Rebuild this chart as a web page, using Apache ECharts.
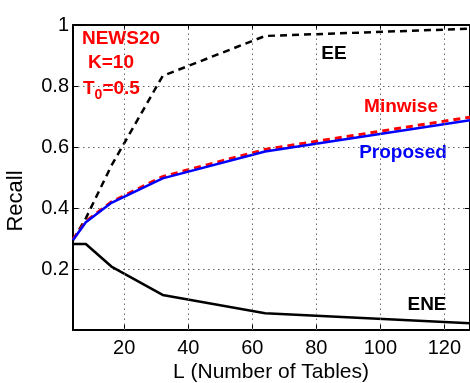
<!DOCTYPE html>
<html>
<head>
<meta charset="utf-8">
<script src="https://cdn.jsdelivr.net/npm/echarts@6/dist/echarts.min.js"></script>
<style>
  html, body { margin: 0; padding: 0; background: #fff; }
  #chart { width: 470px; height: 383px; }
</style>
</head>
<body>
<div id="chart"></div>
<script>
// Number of hash tables L
const tables = [4, 8, 16, 32, 64, 128];
// Recall of each method at K=10, T0=0.5 on NEWS20
const recallEE = [0.295, 0.366, 0.539, 0.833, 0.964, 0.988];
const recallMinwise = [0.297, 0.356, 0.420, 0.503, 0.592, 0.698];
const recallProposed = [0.295, 0.353, 0.417, 0.497, 0.585, 0.688];
const recallENE = [0.282, 0.282, 0.208, 0.115, 0.055, 0.022];
const xTicks = [20, 40, 60, 80, 100, 120];

const FONT = 'Liberation Sans, Arial, Helvetica, sans-serif';

function pairs(xs, ys) {
  return xs.map((x, i) => [x, ys[i]]);
}

const dottedGrid = { show: true, lineStyle: { color: '#666', width: 1, type: [1.5, 3.5] } };
const boxLine = { show: true, onZero: false, lineStyle: { color: '#000', width: 2 } };

const chart = echarts.init(document.getElementById('chart'), null, { renderer: 'canvas' });

chart.setOption({
  animation: false,
  backgroundColor: '#fff',
  grid: { left: 73, top: 25, right: 0, bottom: 53, containLabel: false },
  xAxis: [
    {
      type: 'value', min: 4, max: 128, position: 'bottom',
      axisLine: boxLine,
      axisTick: { show: true, inside: true, length: 5, customValues: xTicks, lineStyle: { color: '#000', width: 1 } },
      axisLabel: { customValues: xTicks, color: '#000', fontFamily: FONT, fontSize: 20, margin: 8 },
      splitLine: { show: false }
    },
    {
      type: 'value', min: 4, max: 128, position: 'top',
      axisLine: boxLine,
      axisTick: { show: true, inside: true, length: 5, customValues: xTicks, lineStyle: { color: '#000', width: 1 } },
      axisLabel: { show: false },
      splitLine: { show: false }
    }
  ],
  yAxis: [
    {
      type: 'value', min: 0, max: 1, interval: 0.2, position: 'left',
      axisLine: boxLine,
      axisTick: { show: true, inside: true, length: 5, lineStyle: { color: '#000', width: 1 } },
      axisLabel: {
        color: '#000', fontFamily: FONT, fontSize: 20, margin: 4,
        formatter: v => (v === 0 ? '' : String(+v.toFixed(1)))
      },
      splitLine: dottedGrid
    },
    {
      type: 'value', min: 0, max: 1, interval: 0.2, position: 'right',
      axisLine: boxLine,
      axisTick: { show: true, inside: true, length: 5, lineStyle: { color: '#000', width: 1 } },
      axisLabel: { show: false },
      splitLine: { show: false }
    }
  ],
  series: [
    {
      // vertical grid lines at the x tick values
      name: 'grid', type: 'line', data: [], silent: true,
      markLine: {
        silent: true, symbol: 'none', label: { show: false },
        lineStyle: { color: '#666', width: 1, type: [1.5, 3.5] },
        data: xTicks.map(v => ({ xAxis: v }))
      }
    },
    {
      name: 'EE', type: 'line', data: pairs(tables, recallEE),
      showSymbol: false, symbol: 'none',
      lineStyle: { color: '#000', width: 2.5, type: [7, 5] }
    },
    {
      name: 'ENE', type: 'line', data: pairs(tables, recallENE),
      showSymbol: false, symbol: 'none',
      lineStyle: { color: '#000', width: 2.5 }
    },
    {
      name: 'Minwise', type: 'line', data: pairs(tables, recallMinwise),
      showSymbol: false, symbol: 'none',
      lineStyle: { color: '#ff0000', width: 3, type: [7, 5] }
    },
    {
      name: 'Proposed', type: 'line', data: pairs(tables, recallProposed),
      showSymbol: false, symbol: 'none',
      lineStyle: { color: '#0000ff', width: 2.5 }
    }
  ],
  graphic: [
    {
      type: 'text', x: 16, y: 201, rotation: Math.PI / 2,
      style: { text: 'Recall', font: '22px ' + FONT, fill: '#000', align: 'center', verticalAlign: 'middle' }
    },
    {
      type: 'text', x: 271, y: 372,
      style: { text: 'L (Number of Tables)', font: '21px ' + FONT, fill: '#000', align: 'center', verticalAlign: 'middle' }
    },
    {
      type: 'text', x: 121, y: 39,
      style: { text: 'NEWS20', font: 'bold 19px ' + FONT, fill: '#ff0000', align: 'center', verticalAlign: 'middle' }
    },
    {
      type: 'text', x: 111, y: 63,
      style: { text: 'K=10', font: 'bold 19px ' + FONT, fill: '#ff0000', align: 'center', verticalAlign: 'middle' }
    },
    {
      type: 'text', x: 83, y: 89,
      style: {
        text: '{a|T}{s|0}{a|=0.5}', align: 'left', verticalAlign: 'middle',
        rich: {
          a: { font: 'bold 19px ' + FONT, fill: '#ff0000', verticalAlign: 'middle' },
          s: { font: 'bold 14px ' + FONT, fill: '#ff0000', padding: [12, 0, 0, 0], verticalAlign: 'middle' }
        }
      }
    },
    {
      type: 'text', x: 334, y: 54,
      style: { text: 'EE', font: 'bold 19px ' + FONT, fill: '#000', align: 'center', verticalAlign: 'middle' }
    },
    {
      type: 'text', x: 401, y: 107,
      style: { text: 'Minwise', font: 'bold 19px ' + FONT, fill: '#ff0000', align: 'center', verticalAlign: 'middle' }
    },
    {
      type: 'text', x: 403, y: 153,
      style: { text: 'Proposed', font: 'bold 19px ' + FONT, fill: '#0000ff', align: 'center', verticalAlign: 'middle' }
    },
    {
      type: 'text', x: 427, y: 305,
      style: { text: 'ENE', font: 'bold 19px ' + FONT, fill: '#000', align: 'center', verticalAlign: 'middle' }
    }
  ]
});
</script>
</body>
</html>
